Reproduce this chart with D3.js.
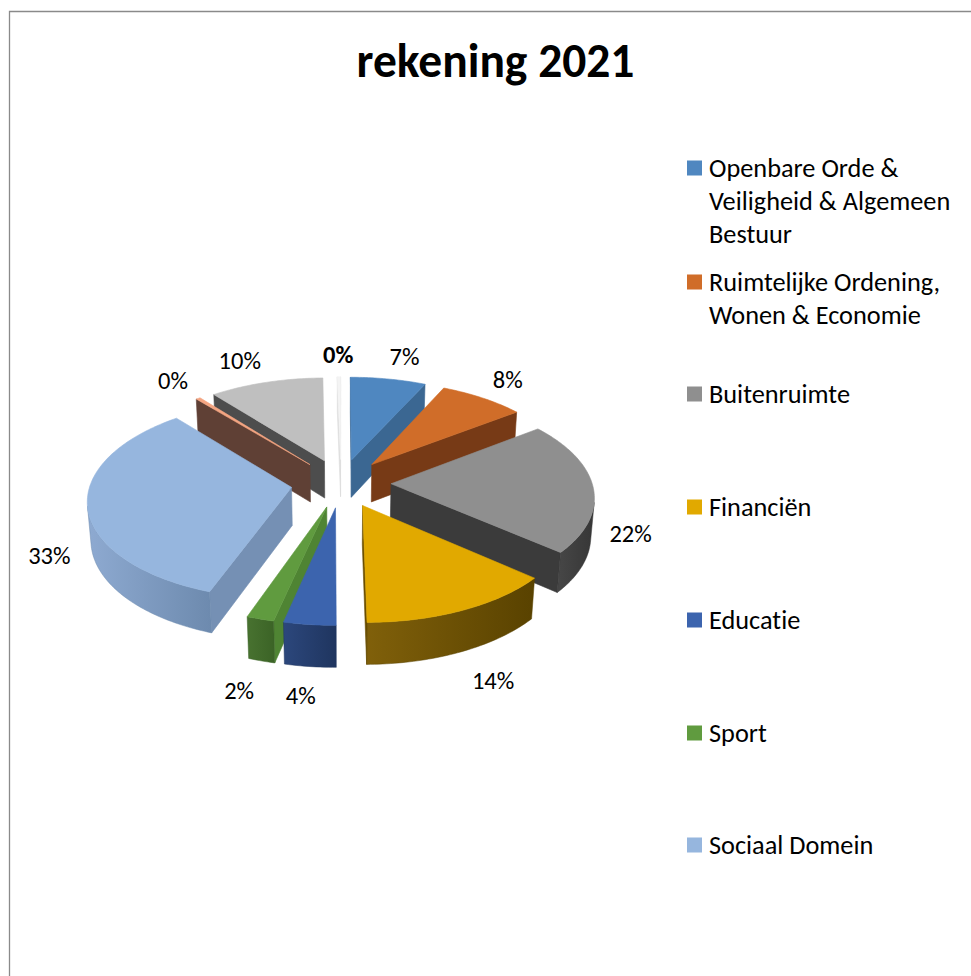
<!DOCTYPE html>
<html>
<head>
<meta charset="utf-8">
<script src="https://cdn.jsdelivr.net/npm/d3@7"></script>
<style>
  html, body { margin: 0; padding: 0; background: #ffffff; }
  svg { display: block; }
  text { font-variant-ligatures: none; font-feature-settings: "liga" 0, "clig" 0, "dlig" 0; }
</style>
</head>
<body>
<svg id="chart" width="971" height="976"></svg>
<script>
// ---- data -------------------------------------------------------------
const chartTitle = "rekening 2021";

// programme names in slice order; the last three have no legend entry
const categories = [
  "Openbare Orde & Veiligheid & Algemeen Bestuur",
  "Ruimtelijke Ordening, Wonen & Economie",
  "Buitenruimte",
  "Financiën",
  "Educatie",
  "Sport",
  "Sociaal Domein",
  null,
  null,
  null
];

// share of the total per programme (percent)
const values = [6.9, 7.8, 21.5, 13.6, 3.6, 1.9, 33.4, 0.4, 10.4, 0.3];

// legend text as it wraps in the legend box
const legendLines = [
  ["Openbare Orde &", "Veiligheid & Algemeen", "Bestuur"],
  ["Ruimtelijke Ordening,", "Wonen & Economie"],
  ["Buitenruimte"],
  ["Financiën"],
  ["Educatie"],
  ["Sport"],
  ["Sociaal Domein"]
];

// ---- styles -----------------------------------------------------------
const topColors  = ["#4f87c0", "#d06d29", "#8f8f8f", "#e1a900", "#3c64ae", "#609b3f", "#96b6de", "#f4a582", "#bfbfbf", "#f4f4f4"];
const faceColors = ["#3b6792", "#773a16", "#3b3b3b", "#6a4e00", "#2b4a85", "#4f8433", "#7590b4", "#5f4035", "#4d4d4d", "#dddddd"];
const wallLeft   = ["#3b6792", "#7b3c17", "#474747", "#80600a", "#2c477c", "#487230", "#8eaad1", "#5f4035", "#5a5a5a", "#d0d0d0"];
const wallRight  = ["#2f557a", "#6a3212", "#363636", "#594200", "#1f355f", "#3b6326", "#6d8aae", "#5f4035", "#4a4a4a", "#c4c4c4"];
const legendColors = topColors;
const fontFamily = "Carlito, Calibri, Lato, 'Open Sans', sans-serif";

// ---- 3-D pie geometry --------------------------------------------------
const cx = 341, cy = 483;          // screen position of the pie centre
const R = 201;                     // radius
const thickness = 44;              // height of the pie
const explode = 50;                // radial pull-out of every slice
const tilt = 29 * Math.PI / 180;   // elevation of the view
const camDist = 1500;              // perspective distance
const cosT = Math.cos(tilt), sinT = Math.sin(tilt);
const camera = [0, camDist * sinT, camDist * cosT];

function project(X, Y, Z) {
  const zc = Z * cosT + Y * sinT;
  const ys = Y * cosT - Z * sinT;
  const s = camDist / (camDist - zc);
  return [cx + X * s, cy - ys * s];
}

const svg = d3.select("#chart");

// chart frame
svg.append("path")
  .attr("d", "M9.5,976V11.5H971")
  .attr("fill", "none")
  .attr("stroke", "#8a8a8a")
  .attr("stroke-width", 1.3);

// title
svg.append("text")
  .attr("x", 495.5)
  .attr("y", 77)
  .attr("text-anchor", "middle")
  .attr("font-family", fontFamily)
  .attr("font-weight", "bold")
  .attr("font-size", 47.5)
  .attr("fill", "#000")
  .text(chartTitle);

const data = values.map((v, i) => ({ name: categories[i], value: v, index: i }));
const total = d3.sum(values);
const pie = d3.pie().sort(null).value(d => d.value);
const arcs = pie(data);
const pct = d3.format(".0%");

const defs = svg.append("defs");
const pieG = svg.append("g");

function slicePoint(d, r, theta, Y) {
  const mid = (d.startAngle + d.endAngle) / 2;
  const ox = explode * Math.sin(mid), oz = -explode * Math.cos(mid);
  const X = ox + r * Math.sin(theta), Z = oz - r * Math.cos(theta);
  return { X, Y, Z };
}
function facing(p, n) {
  const v = [camera[0] - p.X, camera[1] - p.Y, camera[2] - p.Z];
  return v[0] * n[0] + v[1] * n[1] + v[2] * n[2] > 0;
}
const P = p => project(p.X, p.Y, p.Z);
const line = d3.line();

// painter's order: farthest slices first
const ordered = arcs.slice().sort((a, b) => {
  const za = slicePoint(a, R * 0.5, (a.startAngle + a.endAngle) / 2, 0).Z;
  const zb = slicePoint(b, R * 0.5, (b.startAngle + b.endAngle) / 2, 0).Z;
  return za - zb;
});

ordered.forEach(d => {
  const i = d.index;
  const g = pieG.append("g").attr("class", "slice");
  const s = d.startAngle, e = d.endAngle;
  const n = Math.max(2, Math.ceil((e - s) / (Math.PI / 180)));
  const angles = d3.range(n + 1).map(k => s + (e - s) * k / n);

  // radial faces
  const apexT = slicePoint(d, 0, s, 0), apexB = slicePoint(d, 0, s, -thickness);
  [[s, [-Math.cos(s), 0, -Math.sin(s)]], [e, [Math.cos(e), 0, Math.sin(e)]]].forEach(([a, nrm]) => {
    const oT = slicePoint(d, R, a, 0), oB = slicePoint(d, R, a, -thickness);
    const c = { X: (apexT.X + oT.X) / 2, Y: -thickness / 2, Z: (apexT.Z + oT.Z) / 2 };
    if (facing(c, nrm)) {
      g.append("path")
        .attr("d", line([P(apexT), P(oT), P(oB), P(apexB)]) + "Z")
        .attr("fill", faceColors[i])
        .attr("stroke", faceColors[i])
        .attr("stroke-width", 0.6)
        .attr("stroke-linejoin", "round");
    }
  });

  // outer wall, front-facing runs only
  const runs = [];
  let cur = null;
  for (let k = 0; k < n; k++) {
    const t = (angles[k] + angles[k + 1]) / 2;
    const p = slicePoint(d, R, t, -thickness / 2);
    const vis = facing(p, [Math.sin(t), 0, -Math.cos(t)]);
    if (vis) {
      if (!cur) { cur = [angles[k]]; runs.push(cur); }
      cur.push(angles[k + 1]);
    } else cur = null;
  }
  runs.forEach((run, ri) => {
    const topPts = run.map(a => P(slicePoint(d, R, a, 0)));
    const botPts = run.map(a => P(slicePoint(d, R, a, -thickness))).reverse();
    const pts = topPts.concat(botPts);
    const xs = pts.map(q => q[0]);
    const id = `wall-${i}-${ri}`;
    const grad = defs.append("linearGradient")
      .attr("id", id)
      .attr("gradientUnits", "userSpaceOnUse")
      .attr("x1", d3.min(xs)).attr("x2", d3.max(xs))
      .attr("y1", 0).attr("y2", 0);
    grad.append("stop").attr("offset", 0).attr("stop-color", wallLeft[i]);
    grad.append("stop").attr("offset", 1).attr("stop-color", wallRight[i]);
    g.append("path")
      .attr("d", line(pts) + "Z")
      .attr("fill", `url(#${id})`)
      .attr("stroke", wallRight[i])
      .attr("stroke-width", 0.5);
  });

  // top face
  const topPts = [P(apexT)].concat(angles.map(a => P(slicePoint(d, R, a, 0))));
  g.append("path")
    .attr("d", line(topPts) + "Z")
    .attr("fill", topColors[i])
    .attr("stroke", topColors[i])
    .attr("stroke-width", 0.6)
    .attr("stroke-linejoin", "round");
});

// data labels, pushed outward from the slice edge
const labelG = svg.append("g")
  .attr("font-family", fontFamily)
  .attr("font-size", 24.5)
  .attr("fill", "#000");
const boldLabels = new Set([9]);
arcs.forEach(d => {
  const mid = (d.startAngle + d.endAngle) / 2;
  const front = Math.cos(mid) < 0;
  const [ax, ay] = P(slicePoint(d, R + 20, mid, front ? -thickness : 0));
  const t = labelG.append("text")
    .attr("font-weight", boldLabels.has(d.index) ? "bold" : "normal")
    .attr("text-anchor", "middle")
    .attr("dominant-baseline", "central")
    .text(pct(d.value / total));
  const bb = t.node().getBBox();
  const hx = Math.max(-1, Math.min(1, Math.sin(mid) * 4));
  t.attr("x", ax + hx * bb.width / 2)
   .attr("y", ay - Math.cos(mid) * bb.height / 2 + (front ? 8 * Math.abs(Math.sin(mid)) : 0));
});

// legend
const legendRowY = [168, 282, 394, 507, 620, 733, 845];
const legendG = svg.append("g")
  .attr("font-family", fontFamily)
  .attr("font-size", 26.3)
  .attr("fill", "#000");
legendLines.forEach((lines, i) => {
  const y0 = legendRowY[i];
  legendG.append("rect")
    .attr("x", 687).attr("y", y0 - 7.5)
    .attr("width", 15).attr("height", 15)
    .attr("fill", legendColors[i]);
  lines.forEach((ln, j) => {
    legendG.append("text")
      .attr("x", 709)
      .attr("y", y0 + j * 33)
      .attr("dominant-baseline", "central")
      .text(ln);
  });
});
</script>
</body>
</html>
